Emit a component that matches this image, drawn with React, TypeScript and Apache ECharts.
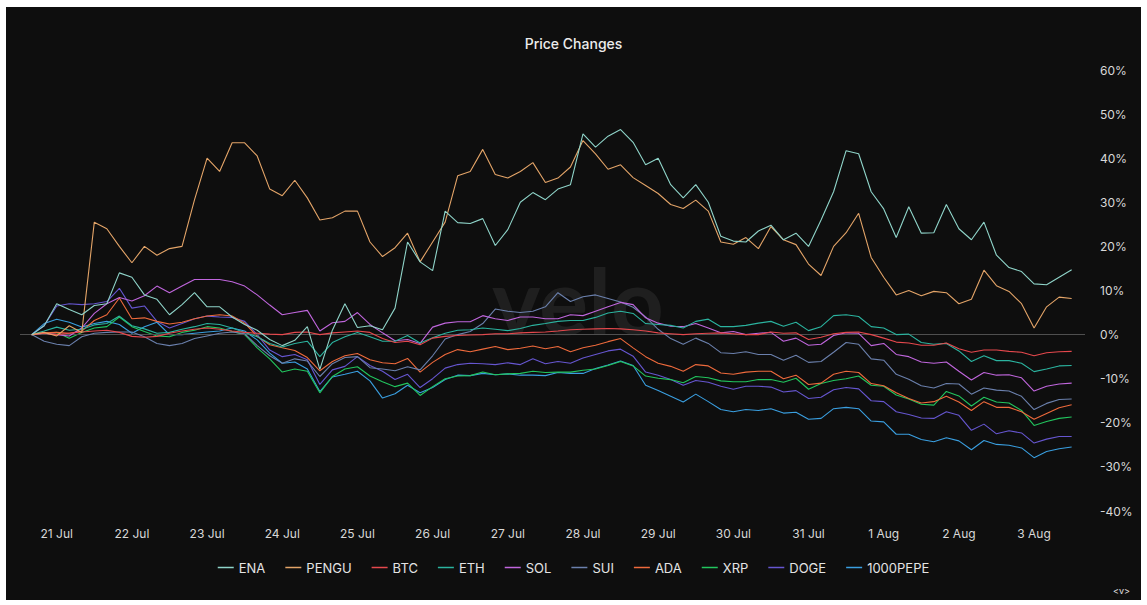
import React, { useEffect, useRef } from "react";
import * as echarts from "echarts";

// Day tick labels and their positions (hours since 21 Jul 00:00)
const dayLabels = ["21 Jul", "22 Jul", "23 Jul", "24 Jul", "25 Jul", "26 Jul", "27 Jul", "28 Jul", "29 Jul", "30 Jul", "31 Jul", "1 Aug", "2 Aug", "3 Aug"];
const dayTickHours = [0, 24, 48, 72, 96, 120, 144, 168, 192, 216, 240, 264, 288, 312];

// Sample times: every 4 hours from 20 Jul 16:00 (hours relative to 21 Jul 00:00)
const hours = Array.from({ length: 84 }, (_, i) => -8 + 4 * i);

const seriesNames = ["ENA", "PENGU", "BTC", "ETH", "SOL", "SUI", "ADA", "XRP", "DOGE", "1000PEPE"];
const seriesColors = ["#8fd4c9", "#e3a468", "#e5484d", "#2bb39f", "#c066dd", "#6b80ad", "#ee6a3c", "#22c55e", "#6656d0", "#3a9fe0"];

const ENA = [0, 2, 7, 5.7, 4.5, 6.6, 7, 14, 13, 9,
  8, 4.5, 6.8, 9.5, 6.3, 6.3, 4, 2.3, 1, -1.1,
  -2.5, -1.3, 1.8, -7.9, 1, 7, 1.6, 2, 1.1, 6,
  21, 16.5, 14.5, 28, 25.4, 25.2, 26.3, 20.2, 23.8, 30,
  32.2, 30.6, 33, 34, 45.5, 42.5, 45, 46.5, 43.6, 38.5,
  40, 34, 31, 34, 30, 22.3, 21.2, 21, 23.5, 24.8,
  21.5, 23, 20, 26, 32.4, 41.7, 41, 32.4, 28.5, 22,
  29, 23, 23.1, 29.5, 24, 21.5, 25.5, 18, 15.2, 14.3,
  11.5, 11.3, 13, 14.7];

const PENGU = [0, 0.5, -0.3, 2, 0.5, 25.5, 24, 20, 16.3, 20,
  18, 19.5, 20, 30.6, 40, 37, 43.5, 43.5, 40.5, 33,
  31.5, 35, 31, 26, 26.5, 28, 28, 21, 17.7, 19.7,
  23, 16.5, 21, 25.5, 36, 37, 42, 36.3, 35.5, 37,
  39, 34.5, 35.5, 38, 44, 41, 37.5, 38.5, 35.6, 33.8,
  32, 29.5, 28.6, 30.5, 28, 21, 20.5, 22, 19.5, 24.5,
  21.5, 20.4, 16, 13.4, 20, 23.1, 27.5, 17.5, 13, 9,
  10, 8.8, 9.8, 9.5, 7, 8, 14.6, 11.1, 9.8, 7,
  1.5, 6.3, 8.5, 8.2];

const BTC = [0, 0.3, 0, 0.3, 0.6, 0.8, 1, 0.5, -0.4, -0.6,
  -0.4, 0.3, 0.8, 1.2, 1.5, 1.2, 0.8, 0.5, 0.3, 0.1,
  0, 0.5, 0.6, 0, 0.4, 0.6, 0.8, 0.5, -0.9, -1.8,
  -1.5, -2.3, -0.8, -0.4, -0.2, -0.1, 0, 0.2, 0.2, 0.4,
  0.5, 0.6, 0.8, 1.1, 1.2, 1.3, 1.4, 1.3, 1.1, 0.8,
  0.4, 0.2, 0, 0.2, 0.3, 0.4, 0.2, 0, 0, 0.6,
  0.3, 0.4, -1.1, -0.6, 0.2, 0.5, 0.6, 0, -0.8, -1.7,
  -1.9, -2.4, -2.4, -1.9, -3.2, -4, -3.5, -3.5, -3.8, -4,
  -4.8, -4.1, -3.9, -3.8];

const ETH = [0, 0.8, 1.7, 1, 1.2, 2.2, 2.5, 4.2, 2, 1.3,
  0.3, 0.5, 1.2, 1.8, 2.5, 2.3, 1.5, 0.5, -0.5, -2,
  -2.8, -2, -1.5, -5, -1.8, -0.5, 0.5, -0.5, -1.5, -1.5,
  -0.2, -1.9, -0.7, 0.3, 1, 1.1, 1.5, 1.2, 0.9, 1.4,
  2.1, 2.5, 3, 3.2, 3.2, 3.9, 4.9, 5.3, 4.8, 2.5,
  2.3, 2.1, 1.5, 3, 3.5, 1.8, 1.8, 2.1, 2.6, 3,
  1.9, 2.8, 0.9, 1.8, 4.3, 4.5, 4.1, 1.8, 1.5, 0,
  0.1, -1.8, -2.2, -2, -3.7, -6.1, -4.8, -5.9, -5.9, -6.5,
  -8.4, -7.8, -7.1, -7];

const SOL = [0, 0.3, 0, -0.3, 1.5, 4.8, 7, 8.4, 7.6, 8.8,
  11, 9.5, 11, 12.5, 12.5, 12.5, 12, 11, 9, 6.7,
  4.5, 5, 5.5, 0.8, 2.7, 3, 5, 2.3, 0.4, -1.4,
  -1.1, -2, 1.7, 2.6, 2.9, 2.9, 4.3, 3.6, 3.2, 4,
  4, 3.6, 3.6, 4.5, 4.3, 5.3, 6.3, 7.3, 6.8, 3.8,
  2.6, 1.9, 1.8, 2.5, 1.5, 0.4, 0.7, 0, 0.3, 0.5,
  -1.5, -0.8, -2.4, -2.2, -0.2, 0.4, 0.3, -2.5, -2, -4.5,
  -5, -6.2, -6.5, -6.2, -8.3, -10.3, -8.6, -9.2, -9.1, -9.8,
  -12.8, -11.7, -11.2, -11];

const SUI = [0, -1.5, -2.2, -2.5, -0.5, 0.3, 0.5, 0.6, 0.6, -0.5,
  -2, -2.5, -2, -0.9, -0.3, 0.3, 0.6, 0.2, -2.5, -4.8,
  -6.5, -5.5, -6, -9.5, -6.6, -5.2, -5, -7.5, -7.8, -8.2,
  -7.3, -8, -4.8, -1, 0, 0.7, 2.5, 5.8, 5.3, 5,
  5.3, 6.3, 9.5, 7.5, 8.6, 9, 8.2, 7.4, 6.2, 4,
  1.2, -0.9, -2.2, -0.8, -2, -4.1, -4.3, -3.9, -4.5, -4.5,
  -5.8, -4.7, -6.3, -6.1, -4, -1.8, -2.2, -5.5, -5.8, -9,
  -10.1, -11.6, -12.1, -11.1, -11.2, -13.5, -12.1, -12.6, -12.8, -14,
  -17, -15.6, -14.7, -14.6];

const ADA = [0, 0.4, 0.5, 0.3, 0.8, 3.2, 4.5, 8.3, 3.6, 3.8,
  3, 2.4, 2.8, 3.6, 4.2, 4.5, 4.2, 2.6, -0.4, -2.3,
  -3, -3.6, -5.2, -8.2, -6.1, -4.8, -4.3, -5.7, -6.4, -6.6,
  -5.4, -8.5, -6.3, -4.5, -3.4, -3.9, -3.3, -2.7, -3.4, -3.1,
  -2.6, -3.2, -2.7, -3.9, -3, -2.4, -1.6, -0.9, -3, -5,
  -6.5, -7.2, -8.3, -6.8, -7.1, -8.7, -9, -8.5, -8.3, -8.3,
  -10, -9.2, -11.3, -11, -9, -8.3, -8.6, -11.1, -11.6, -13.2,
  -14.5, -15.5, -15.2, -14, -15.3, -17.2, -15.2, -16.5, -16.5, -17.5,
  -19.2, -17.9, -16.6, -15.9];

const XRP = [0, 0.3, 0.5, -0.8, 0.5, 1.5, 1.8, 4, 1.8, 0.7,
  -0.3, -0.5, 0.5, 1, 1.8, 1.5, 0.7, 0, -3, -5.5,
  -8.5, -7.8, -8.3, -13.2, -9.5, -7.8, -7.3, -9.4, -10.7, -11.8,
  -11, -13.8, -11.8, -10, -9.4, -9.3, -8.5, -9.1, -8.9, -8.8,
  -8.3, -8.6, -8.5, -8.5, -8.1, -7.8, -7, -6.1, -7.1, -9.4,
  -9.9, -10.2, -10.9, -9.5, -9.8, -10.5, -10.7, -10.7, -10.2, -10.2,
  -10.8, -9.9, -12.4, -11.1, -10.4, -10, -9.4, -11.5, -11.7, -13.7,
  -14.6, -15.8, -16, -12.9, -13.9, -16.2, -14.2, -15.3, -15.5, -17.2,
  -20.6, -19.7, -19, -18.7];

const DOGE = [0, 2, 6.5, 7, 6.8, 7, 7.5, 10.5, 6, 6.5,
  3, 1.5, 2.5, 3.6, 4.2, 4, 3.9, 3, 0, -3.5,
  -5, -4.5, -5.7, -11.3, -8, -7.2, -5, -7, -8.3, -10.2,
  -9, -12, -10, -7.6, -6.8, -6.5, -6.6, -6.8, -6.4, -6.8,
  -5.5, -6.6, -6.1, -6.5, -5.3, -4.5, -3.7, -3.3, -4.9, -8.5,
  -9.2, -10.2, -11.5, -10.4, -10.8, -11.7, -12.4, -11.7, -11.7, -11.9,
  -13, -12.7, -14.5, -14.2, -12.5, -12, -12.3, -15, -15.2, -17.5,
  -18.1, -18.9, -19, -17.5, -18.3, -21.7, -20.3, -22.5, -21.8, -22.3,
  -24.6, -23.7, -23.1, -23.1];

const PEPE1000 = [0, 2.5, 3.5, 2.8, 1.7, 2.5, 3, 2.3, 0.3, 1.8,
  2.8, 0, 0, 0.3, 0.6, 0.8, 1.5, 0.8, -1.2, -4.2,
  -6.5, -6.2, -7.8, -12.9, -9.6, -9, -8.3, -10.5, -14.4, -13.4,
  -11.5, -13.2, -12, -10.2, -9.2, -9.3, -8.8, -9.1, -8.9, -9.2,
  -9.2, -9.3, -8.6, -8.8, -8.8, -7.7, -6.9, -6, -7, -11.5,
  -12.7, -14, -15.3, -13.5, -15.2, -17, -17.5, -17, -17.2, -16.8,
  -17.8, -17.6, -19.2, -19, -16.8, -16.5, -16.8, -19.6, -19.8, -22.6,
  -22.6, -23.8, -24.3, -23.4, -24.1, -26.1, -24, -24.9, -25.1, -25.7,
  -27.9, -26.5, -25.9, -25.5];

const seriesValues = [ENA, PENGU, BTC, ETH, SOL, SUI, ADA, XRP, DOGE, PEPE1000];

const FONT = "Inter, 'Noto Sans', sans-serif";

export default function App() {
  const ref = useRef<HTMLDivElement>(null);

  useEffect(() => {
    if (!ref.current) return;
    const chart = echarts.init(ref.current, null, { renderer: "svg" });

    const series = seriesNames.map((name, k) => {
      const s: any = {
        name,
        type: "line",
        data: hours.map((h, i) => [h, seriesValues[k][i]]),
        showSymbol: false,
        symbol: "none",
        lineStyle: { width: 1.1, color: seriesColors[k] },
        itemStyle: { color: seriesColors[k] },
        z: 10 - k,
      };
      if (k === 0) {
        s.markLine = {
          silent: true,
          symbol: ["none", "none"],
          label: { show: false },
          lineStyle: { color: "#4f4f4f", width: 1, type: "solid" },
          data: [{ yAxis: 0 }],
        };
      }
      return s;
    });

    chart.setOption({
      animation: false,
      backgroundColor: "#0e0e0e",
      title: {
        text: "Price Changes",
        left: "center",
        top: 24,
        textStyle: { color: "#ececec", fontSize: 14, fontWeight: 500, fontFamily: FONT },
      },
      legend: {
        data: seriesNames,
        left: "center",
        top: 549,
        icon: "rect",
        itemWidth: 16,
        itemHeight: 1.5,
        itemGap: 20,
        textStyle: { color: "#e4e4e4", fontSize: 13, fontFamily: FONT },
      },
      grid: { left: 14, right: 56, top: 63, bottom: 89, containLabel: false },
      xAxis: {
        type: "value",
        min: -11.72,
        max: 328.26,
        axisLine: { show: false },
        axisTick: { show: false },
        splitLine: { show: false },
        axisLabel: {
          customValues: dayTickHours,
          formatter: (v: number) => {
            const idx = dayTickHours.indexOf(Math.round(v));
            return idx >= 0 ? dayLabels[idx] : "";
          },
          color: "#d8d8d8",
          fontSize: 12,
          margin: 16,
          fontFamily: FONT,
        },
      },
      yAxis: {
        type: "value",
        position: "right",
        min: -40,
        max: 60,
        interval: 10,
        axisLine: { show: false },
        axisTick: { show: false },
        splitLine: { show: false },
        axisLabel: {
          formatter: "{value}%",
          color: "#d8d8d8",
          fontSize: 12,
          margin: 15,
          fontFamily: FONT,
        },
      },
      graphic: [
        {
          type: "text",
          left: 486,
          top: 246,
          z: 0,
          silent: true,
          style: {
            text: "velo",
            fill: "rgba(255,255,255,0.07)",
            fontSize: 92,
            fontWeight: "bold",
            fontFamily: "Lato, sans-serif",
          },
        },
        {
          type: "text",
          left: 1107,
          top: 579,
          silent: true,
          style: { text: "<v>", fill: "#e0e0e0", fontSize: 9, fontFamily: FONT },
        },
      ],
      series,
    });

    return () => chart.dispose();
  }, []);

  return (
    <div
      ref={ref}
      style={{ position: "absolute", left: 6, top: 7, width: 1135, height: 593 }}
    />
  );
}
